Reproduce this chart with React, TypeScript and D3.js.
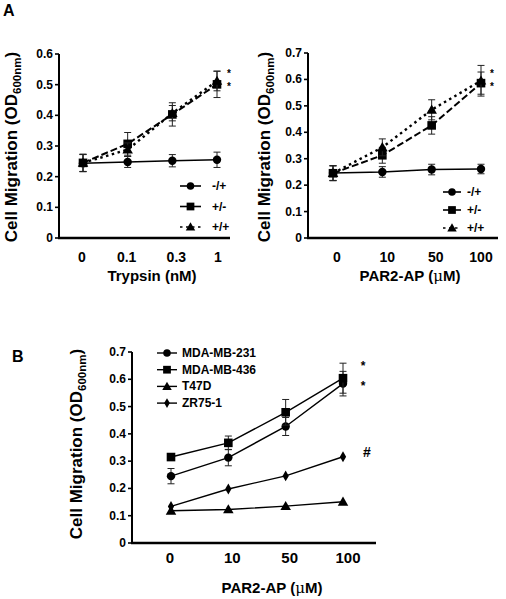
import React from "react";
import * as d3 from "d3";

// ---------- data ----------
const trypsinCats = ["0", "0.1", "0.3", "1"];
const trypMinusPlus = [0.244, 0.248, 0.252, 0.255];
const trypMinusPlusErr = [0.028, 0.018, 0.02, 0.025];
const trypPlusMinus = [0.245, 0.307, 0.403, 0.501];
const trypPlusMinusErr = [0.028, 0.037, 0.038, 0.043];
const trypPlusPlus = [0.245, 0.288, 0.407, 0.512];
const trypPlusPlusErr = [0.028, 0.022, 0.025, 0.032];
const trypYTicks = [0, 0.1, 0.2, 0.3, 0.4, 0.5, 0.6];

const parCats = ["0", "10", "50", "100"];
const parMinusPlus = [0.246, 0.25, 0.259, 0.261];
const parMinusPlusErr = [0.028, 0.02, 0.02, 0.018];
const parPlusMinus = [0.245, 0.313, 0.426, 0.586];
const parPlusMinusErr = [0.028, 0.03, 0.033, 0.042];
const parPlusPlus = [0.245, 0.343, 0.485, 0.595];
const parPlusPlusErr = [0.028, 0.032, 0.038, 0.058];
const parYTicks = [0, 0.1, 0.2, 0.3, 0.4, 0.5, 0.6, 0.7];

const cellCats = ["0", "10", "50", "100"];
const mda231 = [0.245, 0.313, 0.427, 0.584];
const mda231Err = [0.028, 0.03, 0.033, 0.045];
const mda436 = [0.315, 0.367, 0.479, 0.604];
const mda436Err = [0.012, 0.025, 0.047, 0.055];
const t47d = [0.118, 0.123, 0.135, 0.151];
const zr751 = [0.134, 0.198, 0.246, 0.316];
const cellYTicks = [0, 0.1, 0.2, 0.3, 0.4, 0.5, 0.6, 0.7];

const legendA = ["-/+", "+/-", "+/+"];
const legendB = ["MDA-MB-231", "MDA-MB-436", "T47D", "ZR75-1"];

// ---------- helpers ----------
const FONT = "'Liberation Sans', Arial, Helvetica, sans-serif";

type Shape = "circle" | "square" | "triangle" | "diamond";

function Marker({ shape, x, y, s = 1 }: { shape: Shape; x: number; y: number; s?: number }) {
  if (shape === "circle") return <circle cx={x} cy={y} r={4.2 * s} fill="#000" />;
  if (shape === "square")
    return <rect x={x - 4.3 * s} y={y - 4.3 * s} width={8.6 * s} height={8.6 * s} fill="#000" />;
  if (shape === "triangle") {
    const p = d3.symbol().type(d3.symbolTriangle).size(48 * s * s)();
    return <path d={p || ""} transform={`translate(${x},${y + 0.8})`} fill="#000" />;
  }
  const p = d3.symbol().type(d3.symbolDiamond).size(34 * s * s)();
  return <path d={p || ""} transform={`translate(${x},${y})`} fill="#000" />;
}

type Series = {
  values: number[];
  err?: number[];
  shape: Shape;
  dash?: string;
  width: number;
};

type PanelProps = {
  cats: string[];
  yTicks: number[];
  yMax: number;
  axisX0: number;
  axisX1: number;
  ptX0: number;
  ptX1: number;
  yTop: number;
  yBottom: number;
  labelDx: number[];
  series: Series[];
  xTitle: string;
  xTitleX: number;
  xTitleY: number;
  tickLabelY: number;
  yTitleX: number;
  yTitleY: number;
  yTitleSize: number;
  xTickSize: number;
};

function Panel(p: PanelProps) {
  const x = d3.scalePoint<string>().domain(p.cats).range([p.ptX0, p.ptX1]);
  const y = d3.scaleLinear().domain([0, p.yMax]).range([p.yBottom, p.yTop]);
  return (
    <g>
      {/* y axis */}
      <line x1={p.axisX0} x2={p.axisX0} y1={y(p.yMax)} y2={p.yBottom + 1} stroke="#000" strokeWidth={2} />
      {p.yTicks.map((t) => (
        <g key={t}>
          <line x1={p.axisX0 - 4} x2={p.axisX0} y1={y(t)} y2={y(t)} stroke="#000" strokeWidth={1.6} />
          <text
            x={p.axisX0 - 6}
            y={y(t) + 4}
            textAnchor="end"
            fontFamily={FONT}
            fontWeight="bold"
            fontSize={12}
          >
            {t === 0 ? "0" : d3.format(".1f")(t)}
          </text>
        </g>
      ))}
      {/* x axis */}
      <line x1={p.axisX0 - 1} x2={p.axisX1} y1={p.yBottom} y2={p.yBottom} stroke="#000" strokeWidth={2.4} />
      {p.cats.map((c, i) => (
        <text
          key={c}
          x={(x(c) as number) + p.labelDx[i]}
          y={p.tickLabelY}
          textAnchor="middle"
          fontFamily={FONT}
          fontWeight="bold"
          fontSize={p.xTickSize}
        >
          {c}
        </text>
      ))}
      <text
        x={p.xTitleX}
        y={p.xTitleY}
        textAnchor="middle"
        fontFamily={FONT}
        fontWeight="bold"
        fontSize={15}
      >
        {p.xTitle.includes("µ") ? (
          <>
            {p.xTitle.split("µ")[0]}
            <tspan fontFamily="'DejaVu Serif', serif" fontWeight="normal">
              μ
            </tspan>
            {p.xTitle.split("µ")[1]}
          </>
        ) : (
          p.xTitle
        )}
      </text>
      {/* y title */}
      <text
        transform={`translate(${p.yTitleX},${p.yTitleY}) rotate(-90)`}
        textAnchor="middle"
        fontFamily={FONT}
        fontWeight="bold"
        fontSize={p.yTitleSize}
      >
        Cell Migration (OD
        <tspan fontSize={p.yTitleSize * 0.68} dy={p.yTitleSize * 0.25}>
          600nm
        </tspan>
        <tspan dy={-p.yTitleSize * 0.25}>)</tspan>
      </text>
      {/* series */}
      {p.series.map((s, si) => {
        const line = d3
          .line<number>()
          .x((_, i) => x(p.cats[i]) as number)
          .y((v) => y(v));
        return (
          <g key={si}>
            {s.err &&
              s.values.map((v, i) => {
                const cx = x(p.cats[i]) as number;
                const e = s.err![i];
                return (
                  <g key={i} stroke="#222" strokeWidth={1}>
                    <line x1={cx} x2={cx} y1={y(v + e)} y2={y(v - e)} />
                    <line x1={cx - 3.5} x2={cx + 3.5} y1={y(v + e)} y2={y(v + e)} />
                    <line x1={cx - 3.5} x2={cx + 3.5} y1={y(v - e)} y2={y(v - e)} />
                  </g>
                );
              })}
            <path d={line(s.values) || ""} fill="none" stroke="#000" strokeWidth={s.width} strokeDasharray={s.dash} />
            {s.values.map((v, i) => (
              <Marker key={i} shape={s.shape} x={x(p.cats[i]) as number} y={y(v)} />
            ))}
          </g>
        );
      })}
    </g>
  );
}

function LegendRow({
  x,
  y,
  label,
  shape,
  dash,
  width,
  lineLen,
  textGap,
}: {
  x: number;
  y: number;
  label: string;
  shape: Shape;
  dash?: string;
  width: number;
  lineLen: number;
  textGap: number;
}) {
  return (
    <g>
      <line x1={x} x2={x + lineLen} y1={y} y2={y} stroke="#000" strokeWidth={width} strokeDasharray={dash} />
      <Marker shape={shape} x={x + lineLen / 2} y={y} s={0.9} />
      <text x={x + lineLen + textGap} y={y + 4} fontFamily={FONT} fontWeight="bold" fontSize={12}>
        {label}
      </text>
    </g>
  );
}

const starStyle = { fontFamily: FONT, fontWeight: "bold" as const, fontSize: 10 };

export default function App() {
  const aShapes: Shape[] = ["circle", "square", "triangle"];
  const aDash = [undefined, "7,3", "2.5,3.5"];
  const aWidth = [1.5, 2, 2.4];
  const bShapes: Shape[] = ["circle", "square", "triangle", "diamond"];
  return (
    <svg
      width={506}
      height={599}
      style={{ position: "absolute", left: 0, top: 0, background: "#fff" }}
    >
      <rect width={506} height={599} fill="#fff" />
      <text x={3} y={16} fontFamily={FONT} fontWeight="bold" fontSize={16}>
        A
      </text>
      <text x={12} y={362} fontFamily={FONT} fontWeight="bold" fontSize={16}>
        B
      </text>

      {/* Panel A left */}
      <Panel
        cats={trypsinCats}
        yTicks={trypYTicks}
        yMax={0.6}
        axisX0={59}
        axisX1={230}
        ptX0={83}
        ptX1={217}
        yTop={54}
        yBottom={238}
        labelDx={[-1, -1, 4, 1]}
        series={[
          { values: trypMinusPlus, err: trypMinusPlusErr, shape: "circle", width: aWidth[0] },
          { values: trypPlusMinus, err: trypPlusMinusErr, shape: "square", dash: aDash[1], width: aWidth[1] },
          { values: trypPlusPlus, err: trypPlusPlusErr, shape: "triangle", dash: aDash[2], width: aWidth[2] },
        ]}
        xTitle="Trypsin (nM)"
        xTitleX={152}
        xTitleY={281}
        tickLabelY={262}
        yTitleX={17}
        yTitleY={147}
        yTitleSize={17}
        xTickSize={14}
      />
      {legendA.map((l, i) => (
        <LegendRow
          key={l}
          x={180}
          y={186 + i * 20.5}
          label={l}
          shape={aShapes[i]}
          dash={i === 2 ? "2.5,3.5" : undefined}
          width={1.6}
          lineLen={21}
          textGap={11}
        />
      ))}
      <text x={229} y={76.5} textAnchor="middle" {...starStyle}>*</text>
      <text x={229} y={89.5} textAnchor="middle" {...starStyle}>*</text>

      {/* Panel A right */}
      <Panel
        cats={parCats}
        yTicks={parYTicks}
        yMax={0.7}
        axisX0={308}
        axisX1={498}
        ptX0={333}
        ptX1={481}
        yTop={53}
        yBottom={238}
        labelDx={[4, 5, 4, 0]}
        series={[
          { values: parMinusPlus, err: parMinusPlusErr, shape: "circle", width: aWidth[0] },
          { values: parPlusMinus, err: parPlusMinusErr, shape: "square", dash: aDash[1], width: aWidth[1] },
          { values: parPlusPlus, err: parPlusPlusErr, shape: "triangle", dash: aDash[2], width: aWidth[2] },
        ]}
        xTitle="PAR2-AP (µM)"
        xTitleX={410}
        xTitleY={281}
        tickLabelY={262}
        yTitleX={270}
        yTitleY={147}
        yTitleSize={17}
        xTickSize={14}
      />
      {legendA.map((l, i) => (
        <LegendRow
          key={l}
          x={443}
          y={192 + i * 18}
          label={l}
          shape={aShapes[i]}
          dash={i === 2 ? "2.5,3.5" : undefined}
          width={1.6}
          lineLen={18}
          textGap={6}
        />
      ))}
      <text x={492} y={76.5} textAnchor="middle" {...starStyle}>*</text>
      <text x={492} y={89.5} textAnchor="middle" {...starStyle}>*</text>

      {/* Panel B */}
      <Panel
        cats={cellCats}
        yTicks={cellYTicks}
        yMax={0.7}
        axisX0={132}
        axisX1={376}
        ptX0={171}
        ptX1={343}
        yTop={352}
        yBottom={543}
        labelDx={[-1, 4, 4, 5]}
        series={[
          { values: mda231, err: mda231Err, shape: "circle", width: 1.4 },
          { values: mda436, err: mda436Err, shape: "square", width: 1.4 },
          { values: t47d, shape: "triangle", width: 1.4 },
          { values: zr751, shape: "diamond", width: 1.4 },
        ]}
        xTitle="PAR2-AP (µM)"
        xTitleX={272}
        xTitleY={593}
        tickLabelY={563}
        yTitleX={82}
        yTitleY={444}
        yTitleSize={17}
        xTickSize={15}
      />
      {legendB.map((l, i) => (
        <LegendRow
          key={l}
          x={157}
          y={353 + i * 16.7}
          label={l}
          shape={bShapes[i]}
          width={1.4}
          lineLen={20}
          textGap={5}
        />
      ))}
      <text x={363} y={370} textAnchor="middle" fontFamily={FONT} fontWeight="bold" fontSize={12}>*</text>
      <text x={363} y={390} textAnchor="middle" fontFamily={FONT} fontWeight="bold" fontSize={12}>*</text>
      <text x={367} y={457} textAnchor="middle" fontFamily={FONT} fontWeight="bold" fontSize={14}>
        #
      </text>
    </svg>
  );
}
